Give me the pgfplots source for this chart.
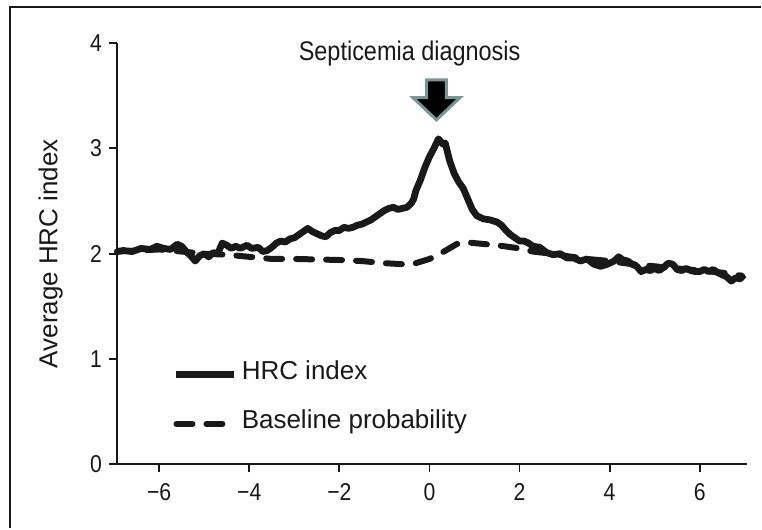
\documentclass[border=0pt]{standalone}
\usepackage{pgfplots}
\pgfplotsset{compat=1.18}
\usepackage{fontspec}
\setmainfont{Liberation Sans}
\newfontfamily\condfont{Liberation Sans}[FakeStretch=0.87]
\definecolor{arrowedge}{RGB}{120,150,150}
\definecolor{ink}{RGB}{25,25,25}

\begin{document}
\begin{tikzpicture}
% frame of the original figure (left and top edge only)
\draw[ink, line width=1pt] (-53.5pt,-32pt) -- (-53.5pt,229pt) -- (322.5pt,229pt);
\begin{axis}[
    at={(0,0)}, anchor=south west,
    scale only axis,
    width=315.5pt, height=211pt,
    xmin=-6.94, xmax=7.05,
    ymin=0, ymax=4,
    axis lines=left,
    axis line style={-, line width=0.9pt, ink},
    tick style={line width=0.9pt, ink},
    tick align=outside,
    major tick length=4pt,
    xtick={-6,-4,-2,0,2,4,6},
    xticklabels={−6,−4,−2,0,2,4,6},
    ytick={0,1,2,3,4},
    yticklabels={0,1,2,3,4},
    ticklabel style={font=\condfont\fontsize{12.2}{13}\selectfont, text=ink},
    xticklabel style={yshift=-2pt},
    ylabel={Average HRC index},
    ylabel style={at={(axis description cs:-0.105,0.5)}, anchor=center,
        font=\fontsize{13}{14}\selectfont, text=ink},
    clip=false,
    legend image code/.code={\draw[#1] (0pt,-1.5pt) -- (29pt,-1.5pt);},
    legend style={at={(axis cs:-5.70,1.03)}, anchor=north west, draw=none, fill=none,
        font=\fontsize{13}{14}\selectfont, text=ink, row sep=10pt, inner sep=0pt},
    legend cell align=left,
    reverse legend,
]

\addplot[ink, line width=3pt, dash pattern=on 8pt off 7pt, line cap=round] coordinates {
    (-6.94,2.02) (-6.0,2.04) (-5.0,2.00) (-4.5,1.99) (-4.0,1.97) (-3.5,1.95)
    (-3.0,1.95) (-2.0,1.94) (-1.5,1.93) (-1.0,1.91) (-0.6,1.90) (-0.3,1.91)
    (0.0,1.95) (0.2,1.99) (0.4,2.04) (0.6,2.09) (0.8,2.11) (1.0,2.10)
    (1.5,2.08) (2.0,2.05) (2.3,2.02) (2.7,2.00) (3.0,1.98) (3.5,1.95)
    (4.0,1.93) (4.5,1.90) (5.0,1.88) (5.5,1.86) (6.0,1.84) (6.5,1.82) (6.94,1.79)
};

\addplot[ink, line width=3.4pt, line join=round] coordinates {
    (-6.94,2.02) (-6.8,2.03) (-6.6,2.02) (-6.4,2.05) (-6.2,2.04) (-6.05,2.07)
    (-5.9,2.05) (-5.75,2.04) (-5.6,2.09) (-5.5,2.07) (-5.4,2.02) (-5.3,1.98)
    (-5.2,1.93) (-5.1,1.98) (-5.0,2.00) (-4.9,1.97) (-4.8,2.01) (-4.7,2.00)
    (-4.6,2.10) (-4.5,2.08) (-4.4,2.05) (-4.3,2.07) (-4.2,2.05) (-4.05,2.08)
    (-3.95,2.05) (-3.8,2.06) (-3.7,2.02) (-3.6,2.03) (-3.5,2.06) (-3.4,2.10)
    (-3.3,2.12) (-3.2,2.11) (-3.1,2.14) (-3.0,2.15) (-2.9,2.18) (-2.8,2.21)
    (-2.7,2.24) (-2.6,2.21) (-2.5,2.19) (-2.4,2.17) (-2.3,2.16) (-2.2,2.20)
    (-2.1,2.22) (-2.0,2.22) (-1.9,2.25) (-1.8,2.24) (-1.7,2.25) (-1.6,2.27)
    (-1.5,2.28) (-1.4,2.30) (-1.3,2.32) (-1.2,2.35) (-1.1,2.38) (-1.0,2.41)
    (-0.9,2.43) (-0.8,2.44) (-0.7,2.42) (-0.6,2.43) (-0.5,2.44) (-0.4,2.48)
    (-0.35,2.52) (-0.3,2.60) (-0.2,2.70) (-0.1,2.82) (0.0,2.92) (0.1,3.00)
    (0.2,3.09) (0.3,3.04) (0.35,3.05) (0.45,2.88) (0.55,2.76) (0.65,2.68)
    (0.75,2.62) (0.85,2.52) (0.95,2.42) (1.05,2.36) (1.2,2.33) (1.35,2.32)
    (1.5,2.30) (1.6,2.27) (1.7,2.22) (1.8,2.18) (1.9,2.15) (2.0,2.12)
    (2.1,2.12) (2.2,2.10) (2.3,2.07) (2.45,2.06) (2.6,2.01) (2.75,1.99)
    (2.9,2.00) (3.05,1.96) (3.2,1.96) (3.35,1.93) (3.5,1.95) (3.65,1.90)
    (3.8,1.88) (3.95,1.90) (4.1,1.93) (4.2,1.97) (4.3,1.94) (4.4,1.93)
    (4.5,1.90) (4.6,1.88) (4.7,1.83) (4.8,1.85) (4.9,1.84) (5.0,1.86)
    (5.1,1.84) (5.2,1.87) (5.3,1.91) (5.4,1.90) (5.5,1.85) (5.6,1.84)
    (5.7,1.86) (5.8,1.84) (5.9,1.83) (6.0,1.83) (6.1,1.85) (6.2,1.83)
    (6.3,1.85) (6.4,1.82) (6.5,1.80) (6.6,1.78) (6.7,1.74) (6.8,1.77)
    (6.9,1.76) (6.98,1.80)
};

\legend{Baseline probability, HRC index}

% annotation
\node[anchor=base, font=\condfont\fontsize{13.5}{14}\selectfont, text=ink]
    at (axis cs:-0.44,3.83) {Septicemia diagnosis};
\filldraw[fill=black, draw=arrowedge, line width=1.5pt, line join=miter]
    (axis cs:-0.065,3.65) -- (axis cs:0.375,3.65) -- (axis cs:0.375,3.48)
    -- (axis cs:0.675,3.48) -- (axis cs:0.155,3.27) -- (axis cs:-0.365,3.48)
    -- (axis cs:-0.065,3.48) -- cycle;
\end{axis}
\path[use as bounding box] (-58.5pt,-32pt) rectangle (322.5pt,232.5pt);
\end{tikzpicture}
\end{document}
